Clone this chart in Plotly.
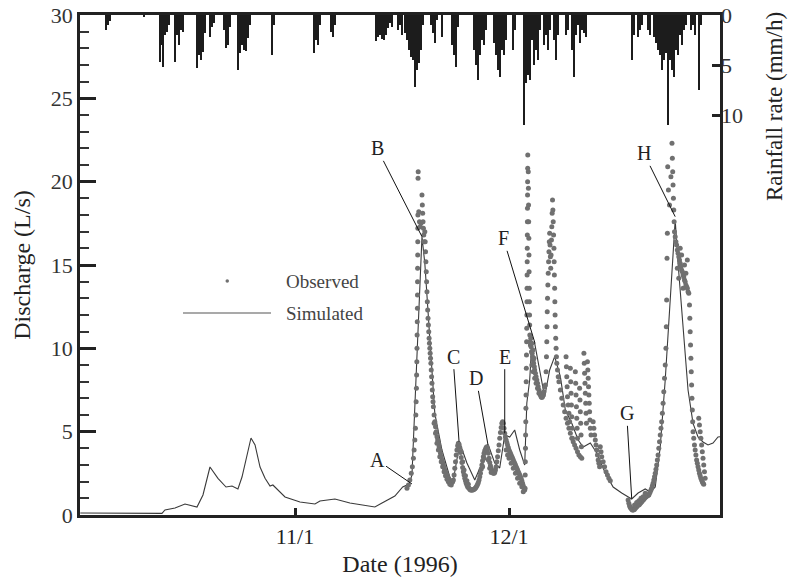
import pandas as pd
import plotly.graph_objects as go

BASE = pd.Timestamp("1996-10-01")

# ---------------- data (days since 1996-10-01) ----------------
sim_day = [0.9, 6.5, 12.35, 12.77, 14.18, 15.58, 16.3, 17.26, 18.1, 19.08, 20.2, 21.33, 22.17, 23.0,
           23.57, 24.13, 24.83, 25.4, 26.1, 26.8, 27.5, 27.9, 29.6, 31.7, 33.8, 34.5, 36.6, 38.7, 40.8,
           42.2, 43.2, 44.3, 45.0, 46.1, 47.0, 47.4, 47.8, 48.2, 48.8, 49.2, 49.6, 50.2, 50.6, 51.6,
           52.7, 53.15, 54.1, 55.1, 56.2, 57.4, 58.1, 59.0, 59.7, 60.4, 61.1, 61.8, 62.5, 63.2, 63.5,
           63.9, 64.2, 64.6, 65.1, 66.0, 66.7, 67.4, 68.2, 68.9, 69.8, 70.7, 71.4, 72.4, 73.3, 74.5,
           75.6, 76.8, 78.2, 79.1, 80.1, 80.8, 81.5, 82.2, 82.9, 83.6, 84.3, 84.7, 85.4, 86.1, 86.8,
           87.5, 88.2, 88.9, 89.6, 90.3, 90.6]
sim_q = [0.12, 0.12, 0.1, 0.3, 0.42, 0.66, 0.6, 0.48, 1.2, 2.88, 2.2, 1.68, 1.74, 1.56,
         2.28, 3.3, 4.62, 4.2, 2.88, 2.2, 1.74, 1.8, 1.08, 0.78, 0.66, 0.84, 0.96, 0.72, 0.6,
         0.48, 0.72, 0.96, 1.14, 1.68, 1.86, 2.4, 6.5, 10.6, 16.7, 15.1, 12.5, 9.1, 6.1, 3.9,
         2.28, 1.98, 4.32, 3.12, 2.1, 3.3, 4.2, 3.12, 2.82, 4.8, 4.68, 5.1, 3.9, 3.0, 6.72,
         8.1, 10.3, 10.3, 9.1, 7.08, 8.7, 9.5, 8.3, 6.3, 5.5, 4.5, 4.08, 4.32, 3.72, 2.52,
         1.68, 1.32, 0.96, 1.32, 1.56, 1.38, 1.68, 4.08, 8.1, 13.1, 17.7, 15.1, 11.1, 7.5, 5.5,
         4.68, 4.38, 4.2, 4.32, 4.68, 4.7]

# observed discharge, (day, L/s), one list per event
obs_event_B = [(46.7, 1.6), (46.9, 1.8), (47.1, 2.1), (47.3, 2.5), (47.45, 2.9), (47.6, 3.4), (47.7, 3.9),
               (47.8, 4.5), (47.88, 5.2), (47.94, 6.0), (47.98, 6.8), (48.02, 7.6), (48.05, 8.4), (48.08, 9.2),
               (48.1, 10.0), (48.12, 10.8), (48.14, 11.6), (48.16, 12.4), (48.17, 13.2), (48.18, 14.0),
               (48.19, 14.8), (48.2, 15.6), (48.21, 16.4), (48.22, 17.2), (48.23, 18.0), (48.25, 20.2),
               (48.27, 20.6), (48.35, 18.2), (48.45, 17.6), (48.55, 17.3), (48.65, 17.5), (48.8, 19.2),
               (48.85, 18.6), (48.9, 18.1), (48.95, 17.6), (49.0, 17.2), (49.05, 16.8), (49.1, 16.4),
               (49.2, 17.0), (49.25, 16.4), (49.3, 15.8), (49.35, 15.2), (49.4, 14.6), (49.45, 14.0),
               (49.5, 13.4), (49.55, 12.8), (49.6, 12.3), (49.65, 11.8), (49.7, 11.4), (49.75, 11.0),
               (49.8, 10.6), (49.85, 10.3), (49.9, 10.0), (49.95, 9.7), (50.0, 9.4), (50.05, 9.1),
               (50.1, 8.7), (50.15, 8.3), (50.2, 7.9), (50.25, 7.5), (50.3, 7.1), (50.35, 6.8), (50.4, 6.5),
               (50.5, 6.0), (50.6, 5.6), (50.7, 5.3), (50.8, 5.0), (50.9, 4.7), (51.0, 4.5), (51.1, 4.3),
               (51.2, 4.1), (51.3, 3.9), (51.4, 3.7), (51.5, 3.5), (51.6, 3.3), (51.7, 3.15), (51.8, 3.0),
               (51.9, 2.85), (52.0, 2.7), (52.1, 2.6), (52.2, 2.5), (52.3, 2.4), (52.4, 2.3), (52.5, 2.2),
               (52.6, 2.1), (52.7, 2.05), (52.8, 2.0), (52.9, 1.95), (53.0, 1.95), (53.1, 2.0),
               (50.5, 5.5), (50.7, 4.9), (50.9, 4.3), (51.1, 3.9), (51.3, 3.5), (51.5, 3.2), (51.7, 2.9),
               (51.9, 2.6), (52.1, 2.35), (52.3, 2.15), (52.5, 2.0), (52.7, 1.85), (52.9, 1.8)]
obs_event_CD = [(53.2, 2.1), (53.3, 2.4), (53.4, 2.8), (53.5, 3.2), (53.6, 3.6), (53.7, 3.9), (53.8, 4.15),
                (53.9, 4.3), (54.0, 4.25), (54.1, 4.05), (54.2, 3.75), (54.3, 3.45), (54.4, 3.15), (54.5, 2.85),
                (54.6, 2.6), (54.7, 2.4), (54.8, 2.2), (54.9, 2.05), (55.0, 1.9), (55.1, 1.8), (55.2, 1.7),
                (55.3, 1.65), (55.4, 1.6), (55.5, 1.55), (55.6, 1.5), (55.7, 1.5), (55.8, 1.5), (55.9, 1.5),
                (56.0, 1.52), (56.1, 1.55), (56.2, 1.58), (56.3, 1.62), (56.4, 1.68), (56.5, 1.75), (56.6, 1.85),
                (56.7, 1.95), (56.8, 2.1), (56.9, 2.3), (57.0, 2.5), (57.1, 2.75), (57.2, 3.0), (57.3, 3.25),
                (57.4, 3.5), (57.5, 3.7), (57.6, 3.85), (57.7, 3.95), (57.8, 4.05), (57.9, 4.1), (58.0, 3.95),
                (58.1, 3.7), (58.2, 3.4), (58.3, 3.15), (58.4, 2.95), (58.5, 2.8), (58.6, 2.65), (58.7, 2.55),
                (58.8, 2.5), (58.9, 2.5), (54.3, 3.8), (54.5, 3.2), (54.7, 2.7), (54.9, 2.35), (55.1, 2.05),
                (55.3, 1.85), (57.3, 2.9), (57.5, 3.4), (58.1, 3.3), (58.3, 2.8), (58.5, 2.55)]
obs_event_E = [(59.0, 2.55), (59.1, 2.7), (59.2, 2.9), (59.3, 3.2), (59.4, 3.5), (59.5, 3.85), (59.6, 4.2),
               (59.7, 4.6), (59.8, 4.95), (59.9, 5.25), (60.0, 5.5), (60.1, 5.6), (60.2, 5.5), (60.3, 5.2),
               (60.4, 4.9), (60.5, 4.7), (60.6, 4.5), (60.7, 4.35), (60.8, 4.2), (60.9, 4.05), (61.0, 3.9),
               (61.1, 3.8), (61.2, 3.7), (61.3, 3.6), (61.4, 3.5), (61.5, 3.4), (61.6, 3.3), (61.7, 3.2),
               (61.8, 3.1), (61.9, 3.0), (62.0, 2.9), (62.1, 2.8), (62.2, 2.7), (62.3, 2.6), (62.4, 2.5),
               (62.5, 2.4), (62.6, 2.3), (62.7, 2.2), (62.8, 2.05), (62.9, 1.9), (63.0, 1.75), (63.1, 1.6),
               (63.2, 1.5), (60.6, 3.9), (60.8, 3.6), (61.0, 3.4), (61.3, 3.1), (61.6, 2.8), (61.9, 2.5),
               (62.2, 2.2), (62.5, 1.9), (62.8, 1.7), (63.0, 1.4)]
obs_event_F = [(63.25, 1.6), (63.27, 2.4), (63.29, 3.2), (63.31, 4.0), (63.33, 4.8), (63.35, 5.6), (63.37, 6.4),
               (63.39, 7.2), (63.41, 8.0), (63.43, 8.8), (63.45, 9.6), (63.47, 10.4), (63.49, 11.2), (63.51, 12.0),
               (63.52, 12.8), (63.53, 13.6), (63.54, 14.4), (63.55, 15.2), (63.56, 16.0), (63.57, 16.8),
               (63.58, 17.6), (63.59, 18.4), (63.6, 19.2), (63.61, 20.0), (63.62, 20.8), (63.63, 21.6),
               (63.7, 20.6), (63.72, 19.6), (63.74, 18.6), (63.76, 17.6), (63.78, 16.6), (63.8, 15.6),
               (63.82, 14.6), (63.84, 13.6), (63.86, 12.8), (63.88, 12.0), (63.9, 11.4), (63.92, 10.8),
               (63.95, 10.4), (64.0, 10.2), (64.05, 10.6), (64.1, 10.1), (64.15, 9.8), (64.2, 10.3),
               (64.25, 9.7), (64.3, 9.5), (64.35, 9.9), (64.4, 9.3), (64.45, 9.1), (64.5, 9.4), (64.55, 8.9),
               (64.6, 8.7), (64.7, 8.5), (64.8, 8.3), (64.9, 8.1), (65.0, 7.9), (65.1, 7.7), (65.2, 7.5),
               (65.3, 7.35), (65.4, 7.2), (65.5, 7.1), (65.6, 7.05), (65.7, 7.1), (65.8, 7.2), (65.9, 7.4),
               (66.0, 7.7), (66.1, 7.8), (66.2, 8.6), (66.25, 9.5), (66.3, 10.4), (66.33, 11.3), (66.36, 12.2),
               (66.4, 13.0), (66.45, 13.8), (66.5, 14.5), (66.55, 15.2), (66.6, 15.8), (66.65, 16.4),
               (66.7, 16.9), (66.75, 16.2), (66.8, 15.5), (66.85, 14.8), (66.9, 15.6), (66.95, 16.5),
               (67.0, 17.3), (67.05, 18.1), (67.1, 18.9), (67.15, 18.3), (67.2, 17.6), (67.25, 16.8),
               (67.3, 16.0), (67.33, 15.2), (67.36, 14.4), (67.4, 13.6), (67.43, 12.8), (67.46, 12.0),
               (67.5, 11.3), (67.55, 10.6), (67.6, 10.0), (67.65, 9.5), (67.7, 9.1), (67.8, 8.7), (67.9, 8.3),
               (64.2, 9.0), (64.4, 8.6), (64.6, 8.2), (64.8, 7.9), (65.0, 7.6), (65.2, 7.3)]
obs_recession = [(68.0, 8.0), (68.2, 7.5), (68.4, 7.0), (68.6, 6.6), (68.8, 6.2), (69.0, 5.8), (69.2, 5.5),
                 (69.4, 5.2), (69.6, 4.9), (69.8, 4.6), (70.0, 4.4), (70.2, 4.2), (70.4, 4.0), (70.6, 3.8),
                 (70.8, 3.6), (71.0, 3.5), (71.2, 3.4), (69.0, 9.5), (69.05, 8.9), (69.1, 8.3), (69.15, 7.7),
                 (69.2, 7.1), (69.3, 6.6), (69.4, 6.1), (69.5, 5.6), (69.6, 8.8), (69.65, 8.0), (69.7, 7.3),
                 (69.75, 6.6), (69.8, 5.9), (69.85, 5.2), (69.9, 4.6), (70.3, 8.6), (70.35, 7.9), (70.4, 7.2),
                 (70.45, 6.5), (70.5, 5.8), (70.55, 5.2), (70.6, 4.6), (70.9, 7.6), (70.95, 6.9), (71.0, 6.2),
                 (71.05, 5.5), (71.1, 4.8), (71.15, 4.1), (71.5, 9.7), (71.55, 9.1), (71.6, 8.5), (71.65, 7.9),
                 (71.7, 7.3), (71.75, 6.7), (71.8, 6.1), (71.85, 5.5), (72.0, 9.2), (72.05, 8.7), (72.1, 8.2),
                 (72.15, 7.7), (72.2, 7.2), (72.25, 6.7), (72.3, 6.2), (72.35, 5.7), (72.4, 5.2), (72.5, 4.8),
                 (72.8, 5.6), (72.9, 5.2), (73.0, 4.8), (73.1, 4.5), (73.2, 4.2), (73.3, 3.9), (73.4, 3.6),
                 (73.5, 3.3), (73.6, 3.1), (73.7, 2.9), (73.8, 4.1), (73.9, 3.8), (74.0, 3.5), (74.2, 3.2),
                 (74.4, 2.9), (74.6, 2.6), (74.8, 2.4), (75.0, 2.2), (75.2, 2.05)]
obs_event_GH = [(77.7, 0.9), (77.8, 0.7), (77.9, 0.55), (78.0, 0.45), (78.1, 0.4), (78.2, 0.35), (78.3, 0.3),
                (78.4, 0.3), (78.5, 0.32), (78.6, 0.35), (78.7, 0.4), (78.8, 0.45), (78.9, 0.5), (79.0, 0.55),
                (79.1, 0.6), (79.2, 0.6), (79.3, 0.65), (79.4, 0.7), (79.5, 0.75), (79.6, 0.8), (79.7, 0.85),
                (79.8, 0.9), (79.9, 0.95), (80.0, 1.0), (80.1, 1.05), (80.2, 1.1), (80.3, 1.12), (80.4, 1.15),
                (80.5, 1.18), (80.6, 1.2), (80.7, 1.3), (80.8, 1.4), (80.9, 1.5), (81.0, 1.6), (81.1, 1.75),
                (81.2, 1.9), (81.3, 2.1), (81.4, 2.3), (81.5, 2.5), (81.6, 2.75), (81.7, 3.0), (81.8, 3.3),
                (81.9, 3.6), (82.0, 4.0), (82.1, 4.4), (82.2, 4.8), (82.3, 5.2), (82.4, 5.6), (82.5, 6.1),
                (82.6, 6.7), (82.7, 7.4), (82.8, 8.2), (82.9, 9.0), (83.0, 10.0), (83.05, 11.3), (83.1, 12.9),
                (83.15, 15.4), (83.2, 16.9), (83.25, 20.9), (83.35, 19.5), (83.5, 18.6), (83.7, 20.3),
                (83.85, 22.3), (83.9, 21.4), (83.95, 20.6), (84.0, 19.8), (84.05, 19.0), (84.1, 18.3),
                (84.15, 17.6), (84.2, 17.0), (84.3, 16.7), (84.4, 16.4), (84.5, 16.2), (84.6, 15.9), (84.7, 15.7),
                (84.8, 15.5), (84.9, 15.3), (85.0, 15.1), (85.1, 14.9), (85.2, 14.7), (85.3, 14.6), (85.4, 14.4),
                (85.5, 14.3), (85.6, 14.1), (85.7, 14.0), (85.8, 13.8), (85.9, 13.7), (86.0, 13.6), (86.1, 13.4),
                (86.2, 13.3), (86.3, 12.6), (86.35, 11.8), (86.4, 11.0), (86.45, 10.2), (86.5, 9.4), (86.55, 8.6),
                (86.6, 7.8), (86.65, 7.0), (86.7, 6.3), (86.75, 5.6), (86.8, 5.0), (86.9, 4.6), (87.0, 4.2),
                (87.1, 3.9), (87.2, 3.6), (87.3, 3.3), (87.4, 3.1), (87.5, 2.9), (87.6, 2.7), (87.7, 2.5),
                (87.8, 2.35), (87.9, 2.2), (88.0, 2.1), (88.1, 2.0), (88.2, 1.9), (88.3, 1.85),
                (84.6, 14.8), (84.8, 14.2), (85.0, 16.0), (85.2, 15.6), (85.4, 13.6), (85.6, 15.0),
                (85.8, 14.5), (86.0, 15.3), (87.6, 5.8), (87.7, 5.4), (87.8, 5.0), (87.9, 4.6), (88.0, 4.2),
                (88.1, 3.8), (88.2, 3.4), (88.3, 3.0), (88.4, 2.6), (88.5, 2.2),
                (78.6, 0.6), (78.9, 0.75), (79.2, 0.85), (79.5, 1.0), (79.8, 1.1), (80.1, 1.3)]

rain_day = [4.50, 4.78, 5.06, 9.83, 12.07, 12.21, 12.49, 12.77, 13.06, 13.34,
            14.18, 14.46, 14.74, 15.02, 15.30, 17.26, 17.54, 17.82, 18.10, 18.38,
            19.08, 19.36, 19.64, 21.05, 21.33, 21.61, 21.89, 23.01, 23.29, 23.57,
            23.85, 24.13, 24.41, 24.69, 27.78, 28.06, 33.66, 33.94, 34.22, 34.50,
            36.05, 36.33, 36.61, 42.36, 42.64, 42.92, 43.20, 43.48, 43.76, 44.04,
            44.32, 44.60, 45.44, 45.72, 46.00, 46.42, 46.70, 46.98, 47.26, 47.54,
            47.82, 48.10, 48.38, 48.66, 48.94, 50.07, 50.35, 50.63, 50.91, 51.61,
            53.01, 53.29, 53.57, 53.85, 56.09, 56.37, 56.65, 56.94, 57.22, 57.50,
            57.78, 58.90, 59.18, 59.46, 59.74, 60.02, 60.30, 60.58, 61.56, 61.84,
            63.10, 63.38, 63.66, 63.94, 64.22, 64.50, 64.78, 65.07, 65.35, 65.91,
            66.19, 66.47, 66.75, 67.31, 67.59, 67.87, 69.00, 69.28, 69.84, 70.12,
            70.40, 70.67, 70.95, 71.23, 71.52, 71.80, 78.24, 78.52, 79.08, 79.37,
            79.65, 80.49, 80.77, 81.33, 81.61, 81.89, 82.17, 82.45, 82.73, 83.01,
            83.29, 83.57, 83.85, 84.13, 84.41, 84.69, 84.97, 85.25, 85.53, 85.81,
            86.52, 86.80, 87.08, 87.64, 87.92]
rain_mm = [1.5, 1.0, 0.6, 0.2, 4.7, 3.0, 5.2, 2.0, 1.7, 1.0,
           4.7, 2.0, 3.0, 1.5, 1.7, 5.3, 4.0, 4.5, 3.7, 1.8,
           2.2, 1.2, 0.8, 1.5, 3.3, 3.0, 1.2, 5.5, 3.8, 3.0,
           3.5, 3.6, 2.3, 1.0, 4.0, 1.0, 3.8, 2.5, 3.0, 1.0,
           1.7, 2.2, 1.0, 2.6, 2.2, 2.0, 2.4, 2.5, 2.0, 1.3,
           0.8, 1.2, 1.5, 1.0, 2.0, 1.8, 2.5, 3.5, 4.2, 4.5,
           7.2, 5.5, 4.8, 3.5, 1.0, 1.0, 1.8, 2.8, 0.5, 2.2,
           3.0, 4.0, 5.2, 1.2, 3.5, 5.0, 6.5, 4.0, 2.5, 3.0,
           1.5, 2.8, 4.0, 5.5, 6.2, 3.5, 4.0, 2.5, 3.5, 1.5,
           11.0, 6.8, 6.0, 6.5, 2.5, 5.0, 3.5, 4.5, 1.5, 3.0,
           2.0, 3.5, 1.5, 2.5, 4.5, 2.0, 2.0, 1.5, 3.5, 6.2,
           2.0, 1.0, 2.8, 1.5, 1.8, 2.2, 4.5, 2.0, 2.2, 1.5,
           1.0, 1.5, 2.0, 2.2, 2.8, 3.5, 4.0, 5.5, 4.5, 3.8,
           11.0, 4.5, 5.5, 6.2, 3.5, 4.0, 2.0, 3.0, 1.5, 1.0,
           1.5, 1.0, 2.0, 7.5, 1.0]

letters = ["A", "B", "C", "D", "E", "F", "G", "H"]
label_day = [42.5, 42.5, 53.15, 56.4, 60.4, 60.2, 77.5, 79.9]
label_q = [3.3, 22.0, 9.5, 8.2, 9.5, 16.6, 6.1, 21.7]
point_day = [47.4, 48.8, 54.0, 58.06, 60.4, 64.65, 78.2, 84.3]
point_q = [1.86, 16.7, 4.4, 4.2, 4.9, 10.3, 1.0, 17.9]

x_ticks_day = [31, 61]
x_tick_text = ["11/1", "12/1"]
x_range_day = [0.86, 90.58]

# ---------------- figure ----------------
FONT = "Liberation Serif, Times New Roman, serif"
INK = "#222222"


def to_dates(days):
    return [BASE + pd.Timedelta(days=float(d)) for d in days]


obs_all = obs_event_B + obs_event_CD + obs_event_E + obs_event_F + obs_recession + obs_event_GH
obs_day = [p[0] for p in obs_all]
obs_q = [p[1] for p in obs_all]

fig = go.Figure()
fig.add_trace(go.Bar(x=to_dates(rain_day), y=rain_mm, yaxis="y2", name="Rainfall",
                     marker=dict(color="#1c1c1c", line=dict(width=0)),
                     width=0.3 * 86400000, showlegend=False))
fig.add_trace(go.Scatter(x=to_dates(sim_day), y=sim_q, mode="lines", name="Simulated",
                         line=dict(color="#3a3a3a", width=1.1), showlegend=False))
fig.add_trace(go.Scatter(x=to_dates(obs_day), y=obs_q, mode="markers", name="Observed",
                         marker=dict(color="#707070", size=5, line=dict(width=0)), showlegend=False))

PL, PR, PT, PB = 80, 720, 15, 515


def px(xp):
    return (xp - PL) / (PR - PL)


def py(yp):
    return (PB - yp) / (PB - PT)


annotations = []
for t, ld, lq, pd_, pq in zip(letters, label_day, label_q, point_day, point_q):
    annotations.append(dict(
        x=BASE + pd.Timedelta(days=pd_), y=pq, xref="x", yref="y",
        ax=BASE + pd.Timedelta(days=ld), ay=lq, axref="x", ayref="y",
        text=t, showarrow=True, arrowhead=0, arrowwidth=1, arrowcolor="#111",
        standoff=0, startstandoff=0, font=dict(family=FONT, size=20, color=INK)))

# legend (drawn manually)
annotations.append(dict(x=px(284), y=py(281), xref="paper", yref="paper", text="Observed",
                        showarrow=False, xanchor="left", yanchor="middle",
                        font=dict(family=FONT, size=19, color="#444")))
annotations.append(dict(x=px(284), y=py(313), xref="paper", yref="paper", text="Simulated",
                        showarrow=False, xanchor="left", yanchor="middle",
                        font=dict(family=FONT, size=19, color="#444")))
# right axis title
annotations.append(dict(x=px(774), y=py(107), xref="paper", yref="paper", text="Rainfall rate (mm/h)",
                        showarrow=False, textangle=-90, xanchor="center", yanchor="middle",
                        font=dict(family=FONT, size=23, color=INK)))

shapes = [
    dict(type="line", xref="paper", yref="paper", x0=px(183), x1=px(271), y0=py(313), y1=py(313),
         line=dict(color="#555", width=1.2)),
    dict(type="circle", xref="paper", yref="paper", x0=px(225.5), x1=px(229), y0=py(279.3), y1=py(282.7),
         fillcolor="#707070", line=dict(width=0)),
]

fig.update_layout(
    width=789, height=578,
    margin=dict(l=PL, r=789 - PR, t=PT, b=578 - PB),
    paper_bgcolor="white", plot_bgcolor="white",
    font=dict(family=FONT, color=INK),
    bargap=0,
    annotations=annotations, shapes=shapes,
    xaxis=dict(type="date", range=to_dates(x_range_day), tickvals=to_dates(x_ticks_day),
               ticktext=x_tick_text, ticks="inside", ticklen=7, tickwidth=3, tickcolor=INK,
               showline=True, linewidth=2.5, linecolor=INK, mirror=True, showgrid=False,
               zeroline=False, tickfont=dict(family=FONT, size=22, color=INK),
               title=dict(text="Date (1996)", font=dict(family=FONT, size=24, color=INK), standoff=8),
               automargin=False),
    yaxis=dict(range=[0, 30], tickvals=[0, 5, 10, 15, 20, 25, 30], ticks="inside", ticklen=16,
               tickwidth=3, tickcolor=INK,
               minor=dict(dtick=1, ticks="inside", ticklen=9, tickwidth=1.5, tickcolor="#333"),
               showline=True, linewidth=2.5, linecolor=INK, mirror=True, showgrid=False,
               zeroline=False, tickfont=dict(family=FONT, size=22, color="#333"),
               title=dict(text="Discharge (L/s)", font=dict(family=FONT, size=24, color=INK), standoff=14),
               automargin=False),
    yaxis2=dict(overlaying="y", side="right", range=[50, 0], tickvals=[0, 5, 10],
                ticks="inside", ticklen=8, tickwidth=3, tickcolor=INK, showline=False,
                showgrid=False, zeroline=False, tickfont=dict(family=FONT, size=22, color="#333"),
                automargin=False),
)

fig.write_html("out.html", config={"displayModeBar": False},
               post_script="document.body.style.margin='0px';")
